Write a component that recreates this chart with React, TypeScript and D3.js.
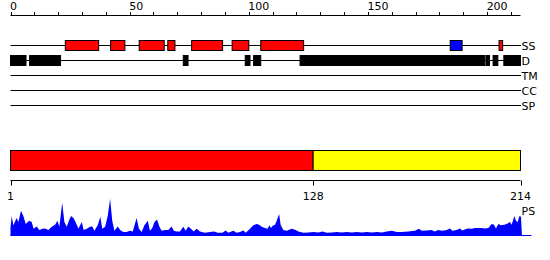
import React from "react";
import * as d3 from "d3";

const SEQ_LEN = 214;

// Secondary structure (SS) features: start/end positions along the sequence
const ssStart = [23, 42, 54, 66, 76, 93, 105, 184.5, 205];
const ssEnd = [37, 48, 64.5, 69, 89, 100, 123, 189.5, 206.5];
const ssType = ["helix", "helix", "helix", "helix", "helix", "helix", "helix", "strand", "helix"];

// Disorder (D) segments
const dStart = [0, 8, 72.5, 98.5, 102, 121.5, 199.5, 202.5, 207];
const dEnd = [6.5, 21, 74.5, 100.5, 105, 199, 201, 204.5, 214];

const trackLabels = ["SS", "D", "TM", "CC", "SP"];

const topTicks = d3.range(0, 211, 10);
const topLabels = [0, 50, 100, 150, 200];

// Domain bar
const domainStart = [1, 128];
const domainEnd = [128, 214];
const domainColor = ["#ff0000", "#ffff00"];
const bottomTicks = [1, 128, 214];

// PS profile (position, score)
const psPos = [
  0, 0.5, 1.2, 2.6, 3.3, 4.4, 5.4, 6.4, 7.8, 8.9, 9.7, 11.0, 12.1, 13.4, 14.5, 15.9, 17.3, 18.7, 19.7, 20.5,
  21.7, 22.6, 23.6, 24.5, 25.4, 26.4, 27.3, 28.5, 29.9, 30.7, 32.0, 33.4, 34.3, 35.2, 36.6, 37.7, 38.5, 39.7,
  40.8, 41.8, 42.7, 43.6, 45.0, 46.0, 47.3, 48.7, 50.1, 51.3, 52.2, 52.9, 53.9, 55.0, 56.2, 57.6, 58.5, 59.5,
  60.4, 61.5, 62.5, 63.4, 64.8, 66.2, 67.6, 68.5, 69.7, 71.1, 72.5, 73.5, 74.6, 75.7, 76.9, 78.1, 79.5, 81.6,
  83.7, 85.5, 86.9, 88.9, 90.3, 91.4, 93.5, 94.9, 96.3, 97.7, 98.7, 100.5, 101.9, 103.3, 104.3, 105.4, 106.8,
  107.9, 108.6, 109.3, 109.9, 111.0, 111.7, 112.7, 113.4, 114.5, 115.9, 118.0, 119.7, 120.8, 122.9, 125.0,
  127.1, 129.2, 130.9, 132.7, 134.8, 136.9, 139.0, 141.1, 143.2, 145.3, 147.4, 149.5, 151.6, 153.7, 155.8,
  157.9, 160.0, 162.1, 164.2, 166.9, 169.7, 171.4, 172.5, 174.6, 176.7, 177.9, 179.5, 181.2, 183.0, 184.4,
  185.4, 187.2, 188.6, 189.6, 191.4, 192.4, 193.5, 194.9, 196.3, 197.7, 199.1, 200.5, 201.9, 202.9, 203.7,
  204.7, 205.8, 207.2, 208.2, 209.6, 210.3, 211.4, 212.1, 212.8, 213.6, 214.2, 214.6,
];
const psVal = [
  20, 50, 27, 45, 35, 63, 50, 30, 38, 35, 18, 24, 15, 18, 19, 15, 23, 28, 38, 23,
  83, 35, 23, 38, 50, 45, 35, 18, 35, 15, 18, 23, 24, 13, 27, 48, 18, 23,
  50, 93, 38, 13, 24, 15, 10, 10, 13, 11, 30, 45, 18, 10, 27, 38, 13, 20,
  35, 41, 23, 13, 15, 15, 24, 13, 11, 11, 23, 13, 24, 18, 11, 18, 11, 8,
  10, 11, 8, 8, 14, 8, 13, 8, 10, 14, 8, 18, 27, 30, 28, 23, 20,
  18, 27, 20, 25, 28, 38, 55, 27, 15, 13, 18, 15, 11, 8, 9,
  10, 9, 11, 8, 9, 10, 9, 10, 9, 10, 9, 10, 9, 10, 9,
  11, 13, 10, 10, 11, 13, 18, 13, 14, 15, 11, 15, 13, 15, 19,
  13, 15, 19, 14, 18, 19, 18, 20, 20, 20, 19, 20, 30, 28, 19,
  30, 27, 28, 30, 35, 28, 50, 38, 35, 50, 48, 0,
];

const FONT = "DejaVu Sans, sans-serif";

export default function App() {
  const W = 550;
  const H = 260;
  const x = d3.scaleLinear().domain([0, SEQ_LEN]).range([10.5, 520.5]);
  const xb = d3.scaleLinear().domain([1, SEQ_LEN + 1]).range([10.5, 520.5]);
  const bx = (v: number) => (v === SEQ_LEN ? xb(v + 1) : xb(v));
  const trackY = d3.scalePoint<string>().domain(trackLabels).range([45.5, 105.5]);
  const psY = d3.scaleLinear().domain([0, 100]).range([236, 196]);

  const psData = psPos.map((p, i) => ({ p, v: psVal[i] }));
  const area = d3
    .area<{ p: number; v: number }>()
    .x((d) => x(d.p))
    .y0(psY(0))
    .y1((d) => psY(d.v));

  const ssColor = (t: string) => (t === "strand" ? "#0000ff" : "#ff0000");
  const axisY = 15.5;
  const barTop = 150.5;
  const barH = 20;
  const bAxisY = 180.5;

  return (
    <svg
      width={W}
      height={H}
      style={{ position: "absolute", left: 0, top: 0, background: "#fff" }}
      fontFamily={FONT}
      fontSize={11}
    >
      {/* top axis */}
      <line x1={x(0)} x2={x(SEQ_LEN)} y1={axisY} y2={axisY} stroke="#000" />
      {topTicks.map((t) => (
        <line key={t} x1={Math.round(x(t)) + 0.5} x2={Math.round(x(t)) + 0.5} y1={axisY - 3.5} y2={axisY} stroke="#000" />
      ))}
      {topLabels.map((t) => (
        <text key={t} x={x(t) - 0.5} y={10} fill="#000">
          {t}
        </text>
      ))}

      {/* tracks */}
      {trackLabels.map((l) => (
        <g key={l}>
          <line x1={x(0)} x2={521} y1={trackY(l)} y2={trackY(l)} stroke="#000" />
          <text x={521.5} y={(trackY(l) as number) + 4} fill="#000">
            {l}
          </text>
        </g>
      ))}
      {ssStart.map((s, i) => (
        <rect
          key={"ss" + i}
          x={x(s)}
          y={(trackY("SS") as number) - 5}
          width={x(ssEnd[i]) - x(s)}
          height={10}
          fill={ssColor(ssType[i])}
          stroke="#000"
        />
      ))}
      {dStart.map((s, i) => (
        <rect
          key={"d" + i}
          x={x(s)}
          y={(trackY("D") as number) - 5}
          width={x(dEnd[i]) - x(s)}
          height={10}
          fill="#000"
          stroke="#000"
        />
      ))}

      {/* domain bar */}
      {domainStart.map((s, i) => (
        <rect
          key={"dom" + i}
          x={bx(s)}
          y={barTop}
          width={bx(domainEnd[i]) - bx(s)}
          height={barH}
          fill={domainColor[i]}
          stroke="#000"
        />
      ))}
      <line x1={bx(1)} x2={bx(SEQ_LEN)} y1={bAxisY} y2={bAxisY} stroke="#000" />
      {bottomTicks.map((t) => (
        <g key={t}>
          <line x1={Math.round(bx(t)) + 0.5} x2={Math.round(bx(t)) + 0.5} y1={bAxisY} y2={bAxisY + 5} stroke="#000" />
          <text x={bx(t)} y={200} textAnchor="middle" fill="#000">
            {t}
          </text>
        </g>
      ))}

      {/* PS profile */}
      <path d={area(psData) || ""} fill="#0000ff" />
      <line x1={x(0)} x2={531.5} y1={235.5} y2={235.5} stroke="#0000ff" />
      <text x={521.5} y={215} fill="#000">
        PS
      </text>
    </svg>
  );
}
